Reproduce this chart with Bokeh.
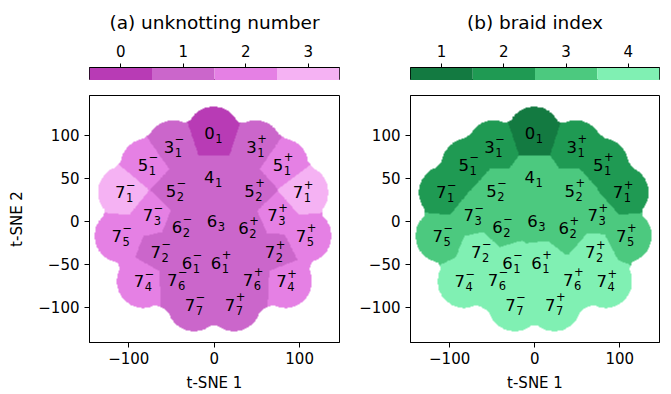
import numpy as np
from bokeh.plotting import figure
from bokeh.models import ColumnDataSource, LinearColorMapper, FixedTicker, CustomJSTickFormatter
from bokeh.layouts import row, column
from bokeh.embed import file_html
from bokeh.resources import INLINE
from bokeh.core.properties import value

# ---- data -----------------------------------------------------------------
knots = ["0_1", "3_1^-", "3_1^+", "5_1^-", "5_1^+", "4_1", "5_2^-", "5_2^+",
         "7_1^-", "7_1^+", "7_3^-", "7_3^+", "6_2^-", "6_2^+", "6_3",
         "7_5^-", "7_5^+", "7_2^-", "7_2^+", "6_1^-", "6_1^+",
         "7_4^-", "7_4^+", "7_6^-", "7_6^+", "7_7^-", "7_7^+"]
tsne_x = [-0.6, -48.0, 48.6, -78.5, 79.6, -0.8, -45.7, 46.3,
          -105.0, 103.0, -72.6, 73.2, -38.6, 39.2, 2.3,
          -109.0, 106.6, -63.6, 70.3, -27.0, 7.0,
          -83.0, 83.7, -44.0, 44.5, -23.4, 23.4]
tsne_y = [102.6, 86.6, 86.6, 65.5, 65.5, 51.0, 35.4, 35.4,
          33.7, 33.7, 7.2, 7.2, -6.6, -8.3, 0.3,
          -17.0, -17.0, -35.3, -36.0, -48.5, -48.5,
          -69.8, -69.8, -68.3, -68.3, -97.0, -97.0]
unknotting = [0, 1, 1, 2, 2, 1, 1, 1,
              3, 3, 2, 2, 1, 1, 1,
              2, 2, 1, 1, 1, 1,
              2, 2, 1, 1, 1, 1]
braid = [1, 2, 2, 2, 2, 3, 3, 3,
         2, 2, 3, 3, 3, 3, 3,
         3, 3, 4, 4, 4, 4,
         4, 4, 4, 4, 4, 4]
unknot_levels = [0, 1, 2, 3]
braid_levels = [1, 2, 3, 4]
x_ticks = [-100, 0, 100]
y_ticks = [-100, -50, 0, 50, 100]

PAL_A = ["#B83BB5", "#CB66CB", "#E580E4", "#F5B2F3"]
PAL_B = ["#137A41", "#1F9A53", "#4CC97F", "#80F0B3"]

X_RANGE = (-146.0, 146.7)
Y_RANGE = (-141.0, 146.3)
CLUSTER_R = 31.0
SIGMA = 18.0
LEVEL = 0.35
FONT = "DejaVu Sans"

# ---- cluster raster: nearest knot cluster, within the clusters' extent ------
step = 0.5
gx = np.arange(X_RANGE[0], X_RANGE[1], step) + step / 2
gy = np.arange(Y_RANGE[0], Y_RANGE[1], step) + step / 2
GX, GY = np.meshgrid(gx, gy)
cx = np.array(tsne_x)[:, None, None]
cy = np.array(tsne_y)[:, None, None]
d2 = (GX[None] - cx) ** 2 + (GY[None] - cy) ** 2
nearest = np.argmin(d2, axis=0)
density = np.exp(-d2 / (2 * SIGMA ** 2)).sum(axis=0)
inside = (np.sqrt(d2.min(axis=0)) <= CLUSTER_R) | (density >= LEVEL)


def raster(vals):
    img = np.array(vals, dtype=float)[nearest]
    img[~inside] = np.nan
    return img


# ---- label pieces -------------------------------------------------------------
base, sub, sup = [], [], []
for k in knots:
    b, rest = k.split("_")
    if "^" in rest:
        s, u = rest.split("^")
    else:
        s, u = rest, ""
    base.append(b)
    sub.append(s)
    sup.append({"-": "\u2212", "+": "+", "": ""}[u])
lab_src = ColumnDataSource(dict(x=tsne_x, y=tsne_y, base=base, sub=sub, sup=sup))

neg_fmt = CustomJSTickFormatter(code="return tick < 0 ? '\\u2212' + Math.abs(tick) : '' + tick;")


def style_axis(ax):
    ax.major_label_text_font = FONT
    ax.major_label_text_font_size = "15px"
    ax.major_label_text_color = "black"
    ax.axis_label_text_font = FONT
    ax.axis_label_text_font_size = "15px"
    ax.axis_label_text_font_style = "normal"
    ax.axis_label_text_color = "black"
    ax.major_tick_in = 0
    ax.major_tick_out = 5
    ax.major_tick_line_color = "black"
    ax.minor_tick_line_color = None
    ax.axis_line_color = "black"


def colorbar_fig(title, levels, palette, bl, br, width):
    cb = figure(width=width, height=80, x_range=(levels[0] - 0.5, levels[-1] + 0.5),
                y_range=(0, 1), x_axis_location="above", y_axis_location=None,
                toolbar_location=None, output_backend="svg",
                min_border_left=bl, min_border_right=br, min_border_top=67,
                min_border_bottom=0, title=title)
    cb.quad(left=[v - 0.5 for v in levels], right=[v + 0.5 for v in levels],
            bottom=0, top=1, fill_color=palette, line_color=None)
    cb.grid.visible = False
    cb.outline_line_color = "black"
    cb.outline_line_width = 1
    cb.xaxis.ticker = FixedTicker(ticks=levels)
    style_axis(cb.xaxis[0])
    cb.xaxis.major_tick_out = 4
    cb.xaxis.major_label_standoff = 7
    cb.title.text_font = FONT
    cb.title.text_font_size = "18.5px"
    cb.title.text_font_style = "normal"
    cb.title.align = "center"
    cb.title.text_color = "black"
    cb.title.standoff = 18
    return cb


def main_fig(vals, levels, palette, bl, br, width, ylabel):
    p = figure(width=width, height=314, x_range=X_RANGE, y_range=Y_RANGE,
               toolbar_location=None, output_backend="svg",
               min_border_left=bl, min_border_right=br, min_border_top=15,
               min_border_bottom=49)
    mapper = LinearColorMapper(palette=palette, low=levels[0] - 0.5, high=levels[-1] + 0.5,
                               nan_color=(0, 0, 0, 0))
    p.image(image=[raster(vals)], x=X_RANGE[0], y=Y_RANGE[0],
            dw=X_RANGE[1] - X_RANGE[0], dh=Y_RANGE[1] - Y_RANGE[0], color_mapper=mapper)
    p.text(x="x", y="y", text="base", source=lab_src, text_font=value(FONT),
           text_font_size="16.5px", text_align="right", text_baseline="middle",
           x_offset=1, text_color="black")
    p.text(x="x", y="y", text="sub", source=lab_src, text_font=value(FONT),
           text_font_size="11.5px", text_align="left", text_baseline="middle",
           x_offset=1.5, y_offset=5.5, text_color="black")
    p.text(x="x", y="y", text="sup", source=lab_src, text_font=value(FONT),
           text_font_size="11.5px", text_align="left", text_baseline="middle",
           x_offset=1.5, y_offset=-8, text_color="black")
    p.grid.visible = False
    p.outline_line_color = "black"
    p.outline_line_width = 1
    p.xaxis.ticker = FixedTicker(ticks=x_ticks)
    p.yaxis.ticker = FixedTicker(ticks=y_ticks)
    p.xaxis.formatter = neg_fmt
    p.yaxis.formatter = neg_fmt
    p.xaxis.axis_label = "t-SNE 1"
    if ylabel:
        p.yaxis.axis_label = ylabel
    style_axis(p.xaxis[0])
    style_axis(p.yaxis[0])
    p.xaxis.major_label_standoff = 4
    p.yaxis.major_label_standoff = 5
    p.xaxis.axis_label_standoff = 7
    p.yaxis.axis_label_standoff = 9
    return p


cb_a = colorbar_fig("(a) unknotting number", unknot_levels, PAL_A, 89, 15, 354)
pa = main_fig(unknotting, unknot_levels, PAL_A, 89, 15, 354, "t-SNE 2")
cb_b = colorbar_fig("(b) braid index", braid_levels, PAL_B, 56, 12, 317)
pb = main_fig(braid, braid_levels, PAL_B, 56, 12, 317, None)

layout = row(column(cb_a, pa), column(cb_b, pb))
open("out.html", "w").write(file_html(layout, INLINE))
